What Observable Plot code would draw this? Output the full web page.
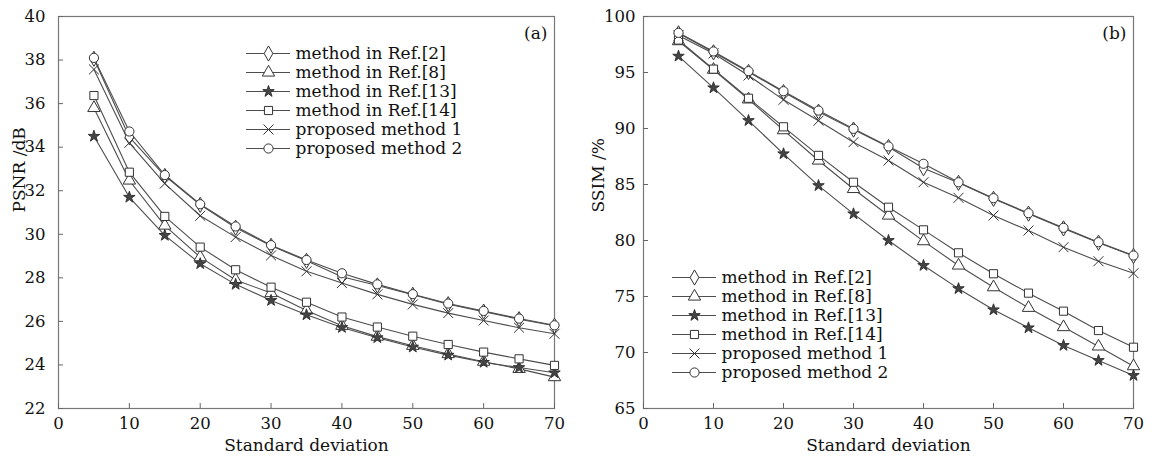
<!DOCTYPE html>
<html><head><meta charset="utf-8">
<script src="https://cdn.jsdelivr.net/npm/d3@7"></script>
<script src="https://cdn.jsdelivr.net/npm/@observablehq/plot@0.6"></script>
<style>
body{margin:0;background:#fff;}
#wrap{position:relative;width:1152px;height:459px;overflow:hidden;}
#wrap > div, #wrap > svg{position:absolute;}
</style></head><body><div id="wrap"></div>
<script>
// ---- data ----
const sd = [5, 10, 15, 20, 25, 30, 35, 40, 45, 50, 55, 60, 65, 70];
const methods = ["method in Ref.[2]", "method in Ref.[8]", "method in Ref.[13]", "method in Ref.[14]", "proposed method 1", "proposed method 2"];
const symbols = ["diamond", "triangle", "star", "square", "times", "circle"];
const xTicks = [0, 10, 20, 30, 40, 50, 60, 70];
const psnrTicks = [22, 24, 26, 28, 30, 32, 34, 36, 38, 40];
const ssimTicks = [65, 70, 75, 80, 85, 90, 95, 100];

const psnrRef2  = [38.06, 34.46, 32.68, 31.35, 30.30, 29.47, 28.78, 28.05, 27.65, 27.22, 26.79, 26.45, 26.10, 25.80];
const psnrRef8  = [35.80, 32.47, 30.40, 28.95, 27.90, 27.30, 26.50, 25.80, 25.30, 24.88, 24.50, 24.15, 23.82, 23.44];
const psnrRef13 = [34.50, 31.70, 29.95, 28.65, 27.70, 26.96, 26.30, 25.72, 25.25, 24.82, 24.45, 24.12, 23.88, 23.64];
const psnrRef14 = [36.37, 32.85, 30.82, 29.41, 28.37, 27.57, 26.88, 26.20, 25.74, 25.32, 24.94, 24.59, 24.28, 23.98];
const psnrProp1 = [37.57, 34.20, 32.33, 30.85, 29.87, 29.03, 28.30, 27.76, 27.24, 26.78, 26.38, 26.04, 25.71, 25.43];
const psnrProp2 = [38.10, 34.72, 32.72, 31.38, 30.36, 29.50, 28.82, 28.21, 27.70, 27.25, 26.82, 26.48, 26.13, 25.82];

const ssimRef2  = [98.50, 96.80, 95.05, 93.25, 91.50, 89.90, 88.35, 86.45, 85.15, 83.72, 82.40, 81.08, 79.80, 78.62];
const ssimRef8  = [97.80, 95.25, 92.60, 89.85, 87.14, 84.60, 82.23, 79.94, 77.77, 75.83, 73.99, 72.27, 70.54, 68.78];
const ssimRef13 = [96.46, 93.63, 90.71, 87.74, 84.90, 82.38, 80.00, 77.77, 75.70, 73.81, 72.20, 70.63, 69.29, 67.95];
const ssimRef14 = [97.90, 95.30, 92.70, 90.15, 87.60, 85.20, 82.97, 80.95, 78.90, 77.03, 75.30, 73.69, 71.96, 70.47];
const ssimProp1 = [98.30, 96.70, 94.73, 92.56, 90.70, 88.78, 87.14, 85.20, 83.81, 82.23, 80.89, 79.40, 78.15, 77.08];
const ssimProp2 = [98.54, 96.88, 95.12, 93.33, 91.60, 89.97, 88.40, 86.85, 85.20, 83.78, 82.44, 81.13, 79.85, 78.66];

const psnrSeries = [psnrRef2, psnrRef8, psnrRef13, psnrRef14, psnrProp1, psnrProp2];
const ssimSeries = [ssimRef2, ssimRef8, ssimRef13, ssimRef14, ssimProp1, ssimProp2];

// ---- drawing ----
const FONT = {fontFamily: "'DejaVu Serif', serif", fontSize: "16.5px", color: "#111", background: "transparent"};
const LINE = "#4d4d4d";
const symR = s => s === "star" ? 3.6 : 4.6;
const symFill = s => s === "star" ? "#444" : "white";

function seriesMarks(series) {
  const marks = [];
  series.forEach((vals, i) => {
    const data = sd.map((x, j) => ({x, y: vals[j]}));
    marks.push(Plot.line(data, {x: "x", y: "y", stroke: LINE, strokeWidth: 1.1}));
  });
  series.forEach((vals, i) => {
    const data = sd.map((x, j) => ({x, y: vals[j]}));
    marks.push(Plot.dot(data, {x: "x", y: "y", symbol: symbols[i], r: symR(symbols[i]),
      stroke: "#333", strokeWidth: 1, fill: symFill(symbols[i])}));
  });
  return marks;
}

function chart({series, yDomain, yTicks, ylabel, tag, mL, mR, padY, ylabelDx}) {
  return Plot.plot({
    width: 576, height: 459,
    marginLeft: mL, marginRight: mR, marginTop: 16, marginBottom: 51,
    style: FONT,
    x: {domain: [0, 70]},
    y: {domain: yDomain},
    marks: [
      Plot.frame({stroke: "#777", strokeWidth: 1.2}),
      Plot.axisX({ticks: xTicks, tickSize: -5, tickPadding: 14, label: null, stroke: "#666"}),
      Plot.axisY({ticks: yTicks, tickSize: -5, tickPadding: padY, label: null, stroke: "#666"}),
      Plot.text(["Standard deviation"], {text: d => d, frameAnchor: "bottom", dy: 37, lineAnchor: "middle", fontSize: 17}),
      Plot.text([ylabel], {text: d => d, frameAnchor: "left", rotate: -90, dx: ylabelDx, lineAnchor: "middle", fontSize: 17}),
      Plot.text([tag], {text: d => d, frameAnchor: "top-right", dx: -7, dy: 17, textAnchor: "end", lineAnchor: "middle", fontSize: 17}),
      ...seriesMarks(series)
    ]
  });
}

function legend() {
  return Plot.plot({
    width: 260, height: 140, margin: 0,
    style: FONT,
    x: {domain: [0, 1], range: [0, 44], axis: null},
    y: {type: "point", domain: methods, range: [11, 126], axis: null},
    marks: [
      Plot.ruleY(methods, {y: d => d, x1: () => 0, x2: () => 1, stroke: LINE, strokeWidth: 1.1}),
      ...methods.map((m, i) => Plot.dot([m], {x: () => 0.5, y: d => d, symbol: symbols[i], r: symR(symbols[i]),
        stroke: "#333", strokeWidth: 1, fill: symFill(symbols[i])})),
      Plot.text(methods, {x: () => 1, y: d => d, text: d => d, dx: 5, textAnchor: "start", lineAnchor: "middle", fontSize: 17})
    ]
  });
}

const wrap = document.getElementById("wrap");
function place(node, left, top) {
  node.style.position = "absolute";
  node.style.left = left + "px";
  node.style.top = top + "px";
  wrap.appendChild(node);
}

place(chart({series: psnrSeries, yDomain: [22, 40], yTicks: psnrTicks, ylabel: "PSNR /dB", tag: "(a)", mL: 58, mR: 22, padY: 18, ylabelDx: -39}), 0, 0);
place(chart({series: ssimSeries, yDomain: [65, 100], yTicks: ssimTicks, ylabel: "SSIM /%", tag: "(b)", mL: 67, mR: 19, padY: 13, ylabelDx: -45}), 576, 0);
place(legend(), 246, 32);
place(legend(), 672, 256);
</script></body></html>
